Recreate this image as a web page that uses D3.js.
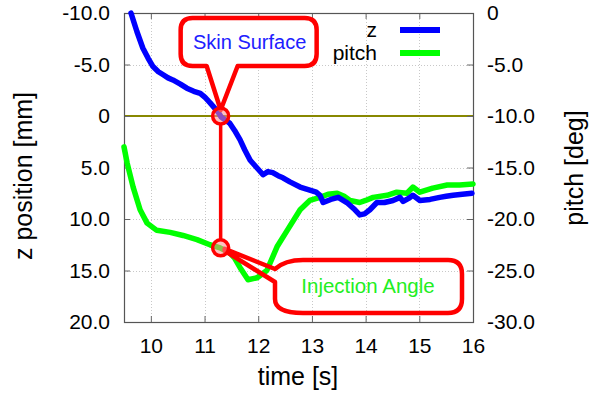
<!DOCTYPE html>
<html>
<head>
<meta charset="utf-8">
<script src="https://cdn.jsdelivr.net/npm/d3@7"></script>
<style>
  body { margin: 0; background: #fff; }
  text { font-family: "Liberation Sans", Arial, sans-serif; }
</style>
</head>
<body>
<div id="chart"></div>
<script>
// z position [mm] over time
const zTime  = [9.63, 9.74, 9.85, 9.95, 10.04, 10.14, 10.23, 10.32, 10.41, 10.55, 10.67, 10.8, 10.92, 11.01, 11.1, 11.25, 11.31, 11.47, 11.56, 11.66, 11.75, 11.85, 11.97, 12.09, 12.18, 12.27, 12.37, 12.46, 12.59, 12.78, 12.96, 13.08, 13.15, 13.21, 13.35, 13.49, 13.65, 13.78, 13.89, 13.98, 14.08, 14.21, 14.35, 14.51, 14.64, 14.7, 14.8, 14.88, 15.01, 15.2, 15.38, 15.5, 15.63, 15.8, 15.98];
const zValue = [-10.0, -8.2, -6.6, -5.6, -4.8, -4.3, -4.0, -3.7, -3.5, -3.1, -2.7, -2.4, -2.2, -1.8, -1.3, -0.4, 0.1, 0.7, 1.4, 2.3, 3.3, 4.3, 5.0, 5.7, 5.4, 5.5, 5.8, 6.0, 6.4, 6.9, 7.2, 7.4, 7.7, 8.4, 8.1, 7.9, 8.4, 9.0, 9.6, 9.5, 9.1, 8.4, 8.4, 8.2, 7.9, 8.3, 8.0, 7.7, 8.2, 8.1, 7.9, 7.8, 7.7, 7.6, 7.5];

// pitch [deg] over time
const pitchTime  = [9.5, 9.56, 9.67, 9.8, 9.93, 10.11, 10.36, 10.6, 10.86, 11.1, 11.29, 11.47, 11.56, 11.66, 11.81, 11.98, 12.16, 12.26, 12.35, 12.54, 12.78, 12.96, 13.15, 13.3, 13.47, 13.6, 13.71, 13.89, 14.0, 14.14, 14.4, 14.58, 14.77, 14.88, 15.01, 15.25, 15.52, 15.75, 16.0];
const pitchValue = [-13.0, -14.6, -16.9, -19.1, -20.4, -21.1, -21.3, -21.6, -22.0, -22.5, -22.8, -23.3, -23.8, -24.7, -25.9, -25.7, -25.0, -23.8, -22.7, -21.1, -19.1, -18.2, -17.9, -17.6, -17.5, -17.8, -18.2, -18.4, -18.2, -17.9, -17.7, -17.4, -17.5, -16.9, -17.4, -17.0, -16.7, -16.7, -16.6];

const xTicks = [10, 11, 12, 13, 14, 15, 16];
const zTicks = [-10, -5, 0, 5, 10, 15, 20];
const zTickLabels = ["-10.0", "-5.0", "0", "5.0", "10.0", "15.0", "20.0"];
const pitchTicks = [0, -5, -10, -15, -20, -25, -30];
const pitchTickLabels = ["0", "-5.0", "-10.0", "-15.0", "-20.0", "-25.0", "-30.0"];

const seriesNames = ["z", "pitch"];
const seriesColors = ["#0000ff", "#00ff00"];

const skinMarker  = { t: 11.3, z: 0 };
const angleMarker = { t: 11.3, pitch: -22.8 };

const width = 598, height = 397;
const mLeft = 124, mRight = 473, mTop = 13, mBottom = 322;

const svg = d3.select("#chart").append("svg")
  .attr("width", width).attr("height", height)
  .attr("viewBox", [0, 0, width, height]);

const x  = d3.scaleLinear().domain([9.5, 16]).range([mLeft, mRight]);
const yz = d3.scaleLinear().domain([-10, 20]).range([mTop, mBottom]);
const yp = d3.scaleLinear().domain([0, -30]).range([mTop, mBottom]);

// grid
const grid = svg.append("g").attr("stroke", "#c8c8c8").attr("stroke-width", 1).attr("stroke-dasharray", "1,2");
grid.selectAll(".gx").data(xTicks.slice(0, -1)).join("line")
  .attr("x1", d => Math.round(x(d)) + 0.5).attr("x2", d => Math.round(x(d)) + 0.5)
  .attr("y1", mTop).attr("y2", mBottom);
grid.selectAll(".gy").data(zTicks.slice(1, -1)).join("line")
  .attr("x1", mLeft).attr("x2", mRight)
  .attr("y1", d => Math.round(yz(d)) + 0.5).attr("y2", d => Math.round(yz(d)) + 0.5);

// skin line at z = 0
svg.append("line")
  .attr("x1", mLeft).attr("x2", mRight)
  .attr("y1", yz(0)).attr("y2", yz(0))
  .attr("stroke", "#888800").attr("stroke-width", 2);

// axes (gnuplot-like: ticks inward, mirrored)
const tickLen = 6;
const axisG = svg.append("g");
axisG.append("g").attr("transform", `translate(0,${mBottom})`)
  .call(d3.axisBottom(x).tickValues(xTicks).tickSizeInner(-tickLen).tickSizeOuter(0).tickPadding(16).tickFormat(d3.format("d")));
axisG.append("g").attr("transform", `translate(0,${mTop})`)
  .call(d3.axisTop(x).tickValues(xTicks).tickSizeInner(-tickLen).tickSizeOuter(0).tickFormat(""));
axisG.append("g").attr("transform", `translate(${mLeft},0)`)
  .call(d3.axisLeft(yz).tickValues(zTicks).tickSizeInner(-tickLen).tickSizeOuter(0).tickPadding(14)
    .tickFormat((d, i) => zTickLabels[i]));
axisG.append("g").attr("transform", `translate(${mRight},0)`)
  .call(d3.axisRight(yp).tickValues(pitchTicks).tickSizeInner(-tickLen).tickSizeOuter(0).tickPadding(14)
    .tickFormat((d, i) => pitchTickLabels[i]));
axisG.selectAll(".domain").remove();
axisG.selectAll(".tick line").attr("stroke", "#666");
axisG.selectAll(".tick text").attr("font-size", 21).attr("fill", "#000")
  .attr("font-family", "'Liberation Sans', Arial, sans-serif");

// frame
svg.append("rect")
  .attr("x", mLeft + 0.5).attr("y", mTop + 0.5)
  .attr("width", mRight - mLeft).attr("height", mBottom - mTop)
  .attr("fill", "none").attr("stroke", "#555").attr("stroke-width", 1.2);

// series
const zLine = d3.line().x((d, i) => x(zTime[i])).y(d => yz(d));
const pLine = d3.line().x((d, i) => x(pitchTime[i])).y(d => yp(d));

svg.append("path").datum(pitchValue)
  .attr("d", pLine).attr("fill", "none")
  .attr("stroke", seriesColors[1]).attr("stroke-width", 5.5)
  .attr("stroke-linejoin", "round").attr("stroke-linecap", "round");
svg.append("path").datum(zValue)
  .attr("d", zLine).attr("fill", "none")
  .attr("stroke", seriesColors[0]).attr("stroke-width", 5.5)
  .attr("stroke-linejoin", "round").attr("stroke-linecap", "round");

// legend
const legend = svg.append("g");
seriesNames.forEach((name, i) => {
  const ly = 30 + i * 23;
  legend.append("text").attr("x", 377).attr("y", ly + 7)
    .attr("text-anchor", "end").attr("font-size", 21).text(name);
  legend.append("line").attr("x1", 400).attr("x2", 440).attr("y1", ly).attr("y2", ly)
    .attr("stroke", seriesColors[i]).attr("stroke-width", 6);
});

// axis titles
svg.append("text").attr("x", 298).attr("y", 385).attr("text-anchor", "middle")
  .attr("font-size", 25).text("time [s]");
svg.append("text").attr("transform", "translate(32,176) rotate(-90)").attr("text-anchor", "middle")
  .attr("font-size", 25).text("z position [mm]");
svg.append("text").attr("transform", "translate(583,168) rotate(-90)").attr("text-anchor", "middle")
  .attr("font-size", 25).text("pitch [deg]");

// callouts
const red = "#ff0000";
const sx = x(skinMarker.t), sy = yz(skinMarker.z);
const ax = x(angleMarker.t), ay = yp(angleMarker.pitch);

svg.append("line").attr("x1", sx).attr("x2", ax).attr("y1", sy + 8).attr("y2", ay - 8)
  .attr("stroke", red).attr("stroke-width", 3.5);

// Skin Surface box with pointer
const b1 = { x0: sx - 40, x1: sx + 96, y0: 18, y1: 66, r: 12 };
const p1 = d3.path();
p1.moveTo(b1.x0 + b1.r, b1.y0);
p1.lineTo(b1.x1 - b1.r, b1.y0);
p1.quadraticCurveTo(b1.x1, b1.y0, b1.x1, b1.y0 + b1.r);
p1.lineTo(b1.x1, b1.y1 - b1.r);
p1.quadraticCurveTo(b1.x1, b1.y1, b1.x1 - b1.r, b1.y1);
p1.lineTo(sx + 17, b1.y1);
p1.lineTo(sx, sy - 6);
p1.lineTo(sx - 14, b1.y1);
p1.lineTo(b1.x0 + b1.r, b1.y1);
p1.quadraticCurveTo(b1.x0, b1.y1, b1.x0, b1.y1 - b1.r);
p1.lineTo(b1.x0, b1.y0 + b1.r);
p1.quadraticCurveTo(b1.x0, b1.y0, b1.x0 + b1.r, b1.y0);
p1.closePath();
svg.append("path").attr("d", p1.toString()).attr("fill", "#fff")
  .attr("stroke", red).attr("stroke-width", 4.5).attr("stroke-linejoin", "round");
svg.append("text").attr("x", (b1.x0 + b1.x1) / 2 + 1).attr("y", 49).attr("text-anchor", "middle")
  .attr("font-size", 20).attr("fill", "#2020ff").text("Skin Surface");

// Injection Angle box with pointer
const b2 = { x0: 275, x1: 462, y0: 260, y1: 313, r: 14 };
const p2 = d3.path();
p2.moveTo(ax + 4, ay + 1);
p2.lineTo(b2.x0, b2.y0 + 9);
p2.quadraticCurveTo(b2.x0 + 10, b2.y0, b2.x0 + 28, b2.y0);
p2.lineTo(b2.x1 - b2.r, b2.y0);
p2.quadraticCurveTo(b2.x1, b2.y0, b2.x1, b2.y0 + b2.r);
p2.lineTo(b2.x1, b2.y1 - b2.r);
p2.quadraticCurveTo(b2.x1, b2.y1, b2.x1 - b2.r, b2.y1);
p2.lineTo(b2.x0 + 28, b2.y1);
p2.quadraticCurveTo(b2.x0, b2.y1, b2.x0, b2.y1 - b2.r);
p2.lineTo(b2.x0, b2.y0 + 22);
p2.lineTo(ax + 4, ay + 3);
p2.closePath();
svg.append("path").attr("d", p2.toString()).attr("fill", "none")
  .attr("stroke", red).attr("stroke-width", 4.5).attr("stroke-linejoin", "round");
svg.append("text").attr("x", 368).attr("y", 293).attr("text-anchor", "middle")
  .attr("font-size", 20.5).attr("fill", "#22ee22").text("Injection Angle");

// marker circles
[[sx, sy], [ax, ay]].forEach(([cx, cy]) => {
  svg.append("circle").attr("cx", cx).attr("cy", cy).attr("r", 8)
    .attr("fill", "rgba(255,140,140,0.55)").attr("stroke", red).attr("stroke-width", 3.5);
});
</script>
</body>
</html>
